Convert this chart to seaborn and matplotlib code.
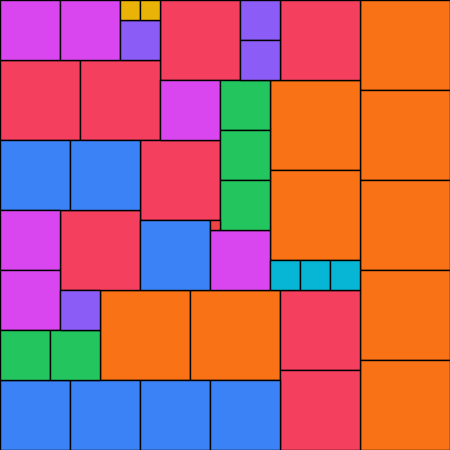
import matplotlib
matplotlib.use("Agg")
import matplotlib.pyplot as plt
from matplotlib.patches import Rectangle
import seaborn as sns
import pandas as pd

# squares of side n, n copies each (n = 1..9), packed into a 45 x 45 grid
side = [9, 9, 9, 9, 9, 9, 9, 9, 9,
        8, 8, 8, 8, 8, 8, 8, 8,
        7, 7, 7, 7, 7, 7, 7,
        6, 6, 6, 6, 6, 6,
        5, 5, 5, 5, 5,
        4, 4, 4, 4,
        3, 3, 3,
        2, 2,
        1]
col = [36, 36, 36, 36, 36, 27, 27, 10, 19,
       16, 28, 0, 8, 14, 6, 28, 28,
       0, 7, 14, 0, 7, 14, 21,
       0, 6, 16, 0, 0, 21,
       22, 22, 22, 0, 5,
       12, 24, 24, 6,
       27, 30, 33,
       12, 14,
       21]
row = [0, 9, 18, 27, 36, 8, 17, 29, 29,
       0, 0, 6, 6, 14, 21, 29, 37,
       14, 14, 22, 38, 38, 38, 38,
       0, 0, 8, 21, 27, 23,
       8, 13, 18, 33, 33,
       2, 0, 4, 29,
       26, 26, 26,
       0, 0,
       22]

palette = {1: "#ef4444", 2: "#eab308", 3: "#06b6d4", 4: "#8b5cf6", 5: "#22c55e",
           6: "#d946ef", 7: "#3b82f6", 8: "#f43f5e", 9: "#f97316"}

df = pd.DataFrame({"side": side, "col": col, "row": row})
scale = 10

sns.set_style("white")
fig = plt.figure(figsize=(4.5, 4.5), dpi=100)
ax = fig.add_axes([0, 0, 1, 1])
for _, r in df.iterrows():
    ax.add_patch(Rectangle((r["col"] * scale, r["row"] * scale), r["side"] * scale, r["side"] * scale,
                           facecolor=palette[r["side"]], edgecolor="black", linewidth=1.0))
ax.set_xlim(0, 450)
ax.set_ylim(450, 0)
ax.set_axis_off()
fig.savefig("out.png", dpi=100)
